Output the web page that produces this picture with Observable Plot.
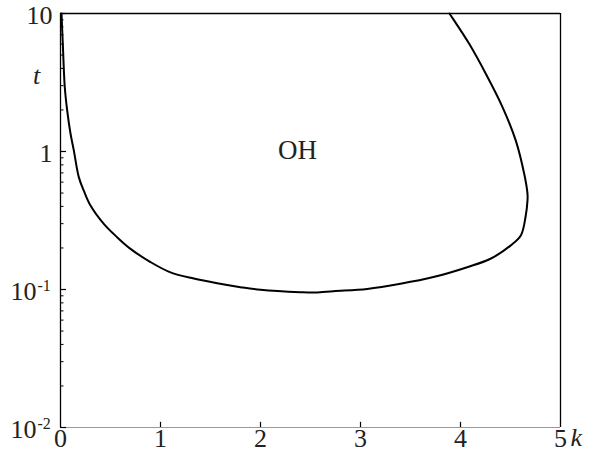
<!DOCTYPE html>
<html>
<head>
<meta charset="utf-8">
<script src="https://cdn.jsdelivr.net/npm/d3@7"></script>
<script src="https://cdn.jsdelivr.net/npm/@observablehq/plot@0.6"></script>
<style>
  html, body { margin: 0; padding: 0; background: white; }
  svg text { font-family: "Liberation Serif", serif; }
</style>
</head>
<body>
<div id="chart"></div>
<script>
// Boundary curve (k, t)
const curveK = [0.01, 0.023, 0.043, 0.067, 0.10, 0.133, 0.183, 0.233, 0.30, 0.433, 0.567, 0.70, 0.90, 1.10, 1.333, 1.567, 1.80, 2.0, 2.4, 2.55, 2.73, 3.067, 3.40, 3.73, 4.067, 4.30, 4.50, 4.603, 4.65, 4.67, 4.67, 4.637, 4.553, 4.42, 4.253, 4.087, 3.903, 3.89];
const curveT = [10, 6.06, 2.91, 1.98, 1.35, 1.02, 0.652, 0.52, 0.406, 0.299, 0.239, 0.197, 0.158, 0.133, 0.120, 0.111, 0.104, 0.0995, 0.0955, 0.0950, 0.0972, 0.101, 0.110, 0.123, 0.145, 0.167, 0.208, 0.246, 0.334, 0.442, 0.493, 0.689, 1.20, 2.10, 3.66, 6.03, 9.68, 10];

// Axes
const xTicks = [0, 1, 2, 3, 4, 5];
const xInnerTicks = [1, 2, 3, 4];
const yTickValues = [0.01, 0.1, 1, 10];
const yTickBase = ["10", "10", "1", "10"];
const yTickExp = ["-2", "-1", "", ""];
const yMinorMult = [2, 3, 4, 5, 6, 7, 8, 9];
const yDecades = [0.01, 0.1, 1];

const regionLabel = "OH";
const regionK = 2.37;
const regionT = 1.0;

const curve = curveK.map((k, i) => ({k, t: curveT[i]}));
const yTicks = yTickValues.map((v, i) => ({v, base: yTickBase[i], exp: yTickExp[i]}));
const yMinor = yDecades.flatMap(d => yMinorMult.map(m => m * d));

const font = "Liberation Serif";

const chart = Plot.plot({
  width: 592,
  height: 460,
  marginLeft: 60,
  marginRight: 32,
  marginTop: 13,
  marginBottom: 33,
  x: {domain: [0, 5], axis: null},
  y: {type: "log", domain: [0.01, 10], axis: null},
  style: {fontFamily: font, background: "white", color: "black", overflow: "visible"},
  marks: [
    // frame
    Plot.ruleY([0.01], {x1: 0, x2: 5, stroke: "#999", strokeWidth: 1.2}),
    Plot.ruleY([10], {x1: 0, x2: 5, stroke: "black", strokeWidth: 1.3}),
    Plot.ruleX([0, 5], {y1: 0.01, y2: 10, stroke: "black", strokeWidth: 1.3}),
    // y ticks (inward)
    Plot.ruleY(yTickValues, {x1: 0, x2: 0.06, stroke: "black", strokeWidth: 1.2}),
    Plot.ruleY(yMinor, {x1: 0, x2: 0.035, stroke: "black", strokeWidth: 1}),
    // x ticks (inward)
    Plot.ruleX(xInnerTicks, {y1: 0.01, y2: 0.0109, stroke: "black", strokeWidth: 1.2}),
    // y tick labels
    Plot.text(yTicks.filter(d => d.exp === ""), {
      y: "v", text: "base", frameAnchor: "left", textAnchor: "end",
      dx: -8, dy: 2, fontSize: 26, fill: "#222", fontFamily: font
    }),
    Plot.text(yTicks.filter(d => d.exp !== ""), {
      y: "v", text: "base", frameAnchor: "left", textAnchor: "end",
      dx: -24, dy: 2, fontSize: 26, fill: "#222", fontFamily: font
    }),
    Plot.text(yTicks.filter(d => d.exp !== ""), {
      y: "v", text: "exp", frameAnchor: "left", textAnchor: "start",
      dx: -23, dy: -4, fontSize: 16, fill: "#222", fontFamily: font
    }),
    // x tick labels
    Plot.text(xTicks, {
      x: d => d, text: d => String(d), frameAnchor: "bottom",
      dy: 19, fontSize: 26, fill: "#222", fontFamily: font
    }),
    // axis titles
    Plot.text(["k"], {
      frameAnchor: "bottom-right", textAnchor: "start", dx: 10, dy: 18,
      fontSize: 26, fontStyle: "italic", fill: "#222", fontFamily: font
    }),
    Plot.text(["t"], {
      frameAnchor: "top-left", textAnchor: "middle", dx: -24, dy: 52,
      fontSize: 26, fontStyle: "italic", fill: "#222", fontFamily: font
    }),
    // region label
    Plot.text([regionLabel], {
      x: () => regionK, y: () => regionT, dy: -1,
      fontSize: 27, fill: "#222", fontFamily: font
    }),
    // curve
    Plot.line(curve, {x: "k", y: "t", stroke: "black", strokeWidth: 2, curve: "catmull-rom"})
  ]
});

document.getElementById("chart").appendChild(chart);
</script>
</body>
</html>
